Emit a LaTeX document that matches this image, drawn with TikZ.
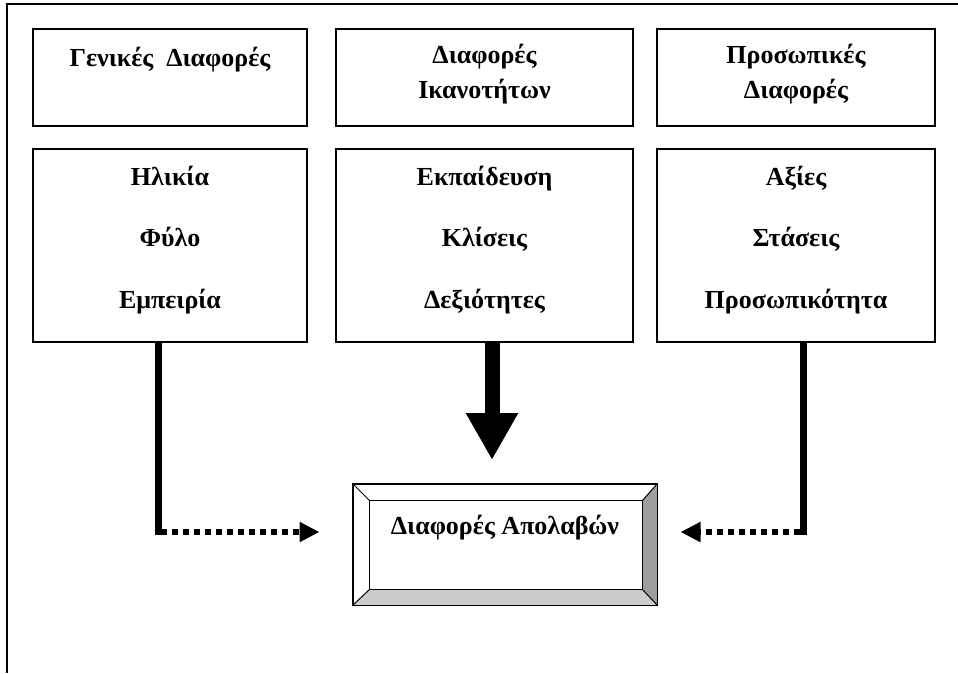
\documentclass[tikz,border=0pt]{standalone}
\usepackage{fontspec}
\setmainfont{Liberation Serif}
\usetikzlibrary{calc,arrows.meta}
\begin{document}
\begin{tikzpicture}[x=1pt,y=-1pt,
  frame/.style={line width=1.4pt},
  box/.style={draw, line width=1.5pt, inner sep=0pt},
  txt/.style={font=\bfseries\fontsize{26}{30}\selectfont, inner sep=0pt, anchor=base},
  thickline/.style={line width=7pt},
  dotline/.style={line width=6pt, dash pattern=on 6pt off 5pt, -{Triangle[length=20pt 0 0, width=19pt 0 0]}},
  bigarrow/.style={line width=15pt, -{Triangle[length=47pt 0 0, width=49pt 0 0]}},
  bevel/.style={line width=1pt}
]
\useasboundingbox (0,0) rectangle (958,673);
% outer frame
\draw[frame] (7,673) -- (7,4) -- (958,4);

% top row boxes
\node[box, minimum width=274pt, minimum height=97pt] (b1) at (170,77.5) {};
\node[box, minimum width=297pt, minimum height=97pt] (b2) at (484.5,77.5) {};
\node[box, minimum width=278pt, minimum height=97pt] (b3) at (796,77.5) {};
% second row boxes
\node[box, minimum width=274pt, minimum height=193pt] (b4) at (170,245.5) {};
\node[box, minimum width=297pt, minimum height=193pt] (b5) at (484.5,245.5) {};
\node[box, minimum width=278pt, minimum height=193pt] (b6) at (796,245.5) {};

% texts top row
\node[txt] (t1) at (170,66) {Γενικές\ \ Διαφορές};
\node[txt] (t2a) at (484.5,63) {Διαφορές};
\node[txt] (t2b) at (484.5,98) {Ικανοτήτων};
\node[txt] (t3a) at (796,63) {Προσωπικές};
\node[txt] (t3b) at (796,98) {Διαφορές};
% texts second row
\node[txt] (t4a) at (170,185) {Ηλικία};
\node[txt] (t4b) at (170,246) {Φύλο};
\node[txt] (t4c) at (170,308) {Εμπειρία};
\node[txt] (t5a) at (484.5,185) {Εκπαίδευση};
\node[txt] (t5b) at (484.5,246) {Κλίσεις};
\node[txt] (t5c) at (484.5,308) {Δεξιότητες};
\node[txt] (t6a) at (796,185) {Αξίες};
\node[txt] (t6b) at (796,246) {Στάσεις};
\node[txt] (t6c) at (796,308) {Προσωπικότητα};

% result bevelled box
\node[draw, bevel, fill=white, minimum width=304pt, minimum height=121pt, inner sep=0pt] (res) at (505,544.5) {};
\coordinate (iNW) at ($(res.north west)+(17,17)$);
\coordinate (iNE) at ($(res.north east)+(-15,17)$);
\coordinate (iSW) at ($(res.south west)+(17,-16)$);
\coordinate (iSE) at ($(res.south east)+(-15,-16)$);
\fill[black!38] (res.north east) -- (iNE) -- (iSE) -- (res.south east) -- cycle;
\fill[black!20] (res.south west) -- (iSW) -- (iSE) -- (res.south east) -- cycle;
\draw[bevel] (res.north west) rectangle (res.south east);
\draw[bevel] (iNW) rectangle (iSE);
\draw[bevel] (res.north west) -- (iNW);
\draw[bevel] (res.north east) -- (iNE);
\draw[bevel] (res.south west) -- (iSW);
\draw[bevel] (res.south east) -- (iSE);
\node[txt] (tr) at (505,534) {Διαφορές Απολαβών};

% connectors
\coordinate (lc) at ($(b4.south)+(-12,0)$);
\coordinate (lcorner) at (lc |- 0,532);
\coordinate (ltip) at ($(res.west |- lcorner)+(-33,0)$);
\draw[thickline] (lc) -- ($(lcorner)+(0,3)$);
\draw[dotline] ($(lcorner)+(3,0)$) -- (ltip);

\coordinate (rc) at ($(b6.south)+(7,0)$);
\coordinate (rcorner) at (rc |- 0,532);
\coordinate (rtip) at ($(res.east |- rcorner)+(23,0)$);
\draw[thickline] (rc) -- ($(rcorner)+(0,3)$);
\draw[dotline] ($(rcorner)+(-3,0)$) -- (rtip);

\coordinate (mc) at ($(b5.south)+(7.5,0)$);
\coordinate (mtip) at (mc |- 0,460);
\draw[bigarrow] (mc) -- (mtip);
\end{tikzpicture}
\end{document}
